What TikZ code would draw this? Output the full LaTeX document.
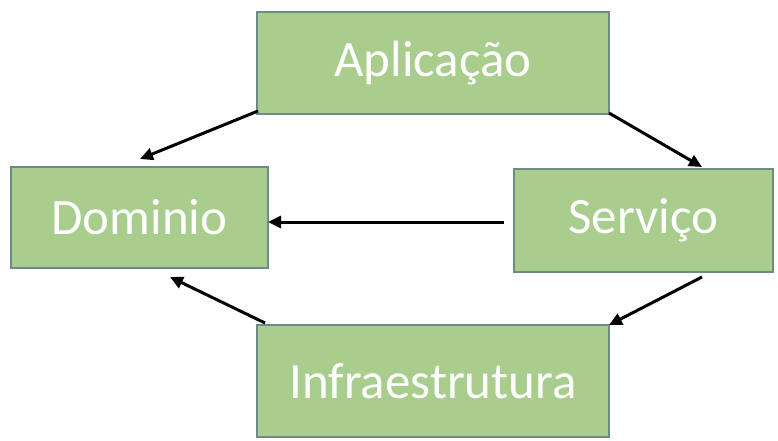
\documentclass[tikz,border=0pt]{standalone}
\usepackage{fontspec}
\setmainfont{Carlito}
\usetikzlibrary{arrows.meta}
\definecolor{boxfill}{RGB}{168,205,140}
\definecolor{boxline}{RGB}{110,140,135}
\begin{document}
\begin{tikzpicture}[x=1pt,y=-1pt,
  box/.style={draw=boxline, line width=1.2pt, fill=boxfill, inner sep=0pt,
    text=white, font=\fontsize{51}{60}\selectfont},
  conn/.style={line width=3pt, -{Triangle[length=13pt,width=12pt]}}]
\useasboundingbox[fill=white] (0,0) rectangle (778,441);
\node[box, minimum width=352pt, minimum height=102pt] (apl) at (433,63) {Aplicação};
\node[box, minimum width=257pt, minimum height=101pt] (dom) at (139.5,217.5) {Dominio};
\node[box, minimum width=259pt, minimum height=103pt] (ser) at (643.5,220.5) {Serviço};
\node[box, minimum width=352pt, minimum height=112pt] (inf) at (433,381) {Infraestrutura};
\coordinate (a1) at (258,111);
\coordinate (d1) at (140,159);
\coordinate (a2) at (609,113);
\coordinate (s1) at (702,167);
\coordinate (s2) at (504,222);
\coordinate (d2) at (268,222);
\coordinate (s3) at (702,277);
\coordinate (i1) at (609,325);
\coordinate (i2) at (265,323);
\coordinate (d3) at (170,277);
\draw[conn] (a1) -- (d1);
\draw[conn] (a2) -- (s1);
\draw[conn] (s2) -- (d2);
\draw[conn] (s3) -- (i1);
\draw[conn] (i2) -- (d3);
\end{tikzpicture}
\end{document}
